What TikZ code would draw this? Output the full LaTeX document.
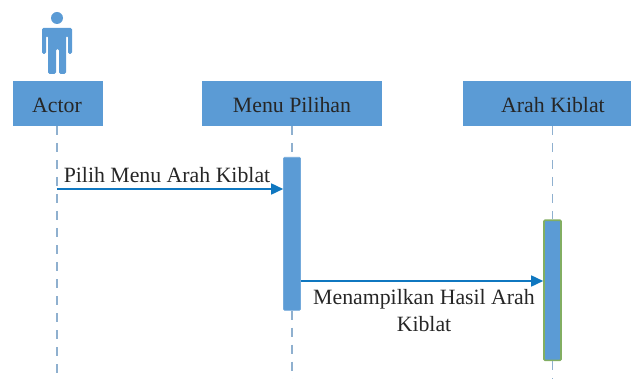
\documentclass[tikz,border=0pt]{standalone}
\usepackage{fontspec}
\setmainfont{Liberation Serif}
\usetikzlibrary{arrows.meta}
\definecolor{blu}{HTML}{5B9BD5}
\definecolor{arr}{HTML}{0F77C0}
\definecolor{grn}{HTML}{82AE62}
\definecolor{dsh}{HTML}{8FB0CF}
\tikzset{
 head/.style={draw=none,fill=blu,anchor=center,inner sep=0pt},
 bar/.style={draw=blu!85!white,line width=.6pt,fill=blu,rounded corners=1pt,minimum width=17pt,inner sep=0pt},
 life/.style={dsh,line width=1.3pt,dash pattern=on 9pt off 8pt},
 msg/.style={arr,line width=1.6pt,-{Triangle[length=12pt,width=11pt]}},
 lbl/.style={font=\fontsize{21.8}{27}\selectfont,text=black!85,inner sep=0pt,align=center}
}
\begin{document}
\begin{tikzpicture}[x=1pt,y=-1pt]
\useasboundingbox (0,0) rectangle (631,379);
% actor
\fill[blu] (57,18) circle (6);
\fill[blu,rounded corners=1.5pt] (42,28) -- (72,28) -- (72,54) -- (68,54) -- (68,36) -- (66,36) -- (66,74) -- (59,74) -- (59,49) -- (56,49) -- (56,74) -- (48,74) -- (48,36) -- (46,36) -- (46,54) -- (42,54) -- cycle;
\node[head,minimum width=90pt,minimum height=45pt] (actor) at (58,103.5) {};
\node[lbl] at (57,105) {Actor};
\node[head,minimum width=180pt,minimum height=45pt] (menu) at (292,103.5) {};
\node[lbl] at (292,105) {Menu Pilihan};
\node[head,minimum width=168pt,minimum height=45pt,anchor=west] (arah) at (463,103.5) {};
\node[lbl] at (553,105) {Arah Kiblat};
\node[bar,minimum height=153pt,anchor=north] (b1) at (292,157) {};
\node[bar,draw=grn,line width=1.6pt,minimum height=140pt,anchor=north] (b2) at (552.5,219.5) {};
\coordinate (a0) at (57,379);
\coordinate (m0) at (292,379);
\coordinate (r0) at (552.5,379);
\draw[life] (57,126) -- (a0);
\draw[life] (292,126) -- (b1.north);
\draw[life] (b1.south) -- (m0);
\draw[life] (552.5,126) -- (b2.north);
\draw[life] (b2.south) -- (r0);
\coordinate (s1) at (57,189);
\draw[msg] (s1) -- (s1-|b1.west);
\coordinate (s2) at (b1.east|-0,281);
\draw[msg] (s2) -- (s2-|b2.west);
\node[lbl] at (167,175) {Pilih Menu Arah Kiblat};
\node[lbl] at (424,311) {Menampilkan Hasil Arah\\Kiblat};
\end{tikzpicture}
\end{document}
